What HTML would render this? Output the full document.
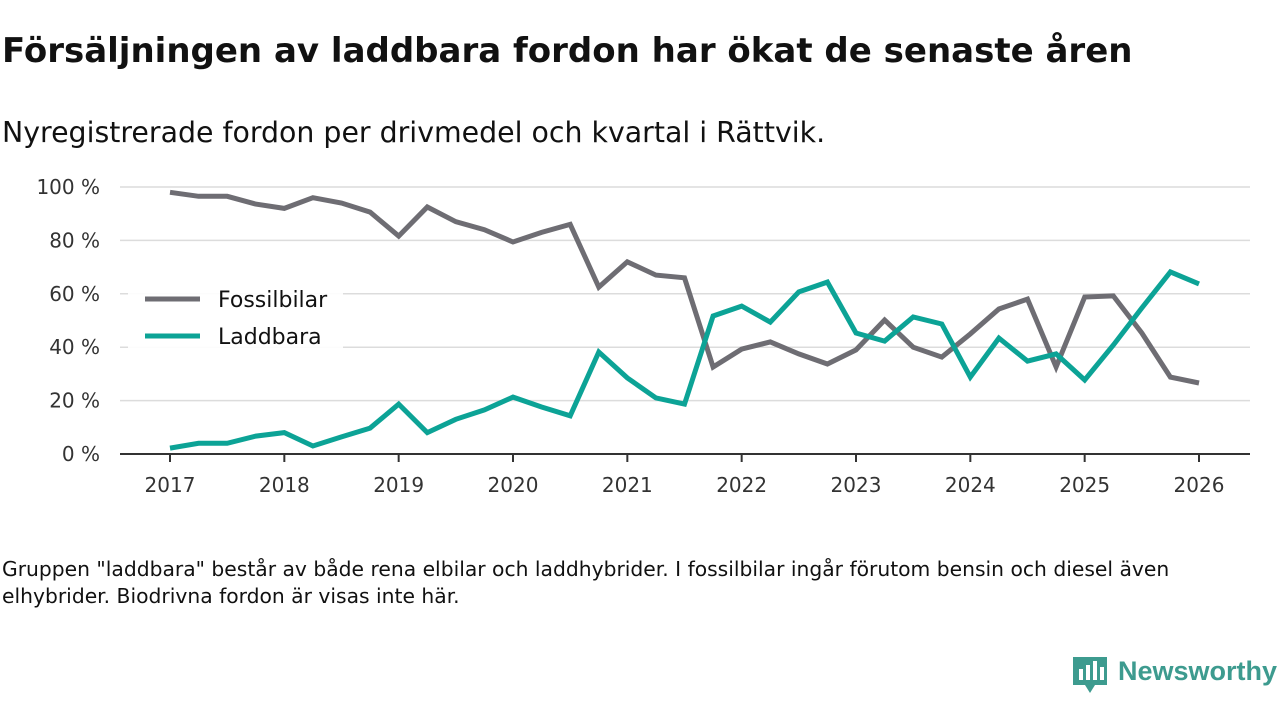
<!DOCTYPE html>
<html><head><meta charset="utf-8">
<style>
body{margin:0;width:1280px;height:720px;background:#fff;overflow:hidden;font-family:"DejaVu Sans","Liberation Sans",sans-serif;color:#111}
#title{position:absolute;left:2px;top:31px;font-size:34px;font-weight:bold;white-space:nowrap}
#sub{position:absolute;left:2px;top:116px;font-size:28.4px;white-space:nowrap}
#note{position:absolute;left:2px;top:556px;font-size:20.3px;line-height:27px;width:1215px}
#logo{position:absolute;left:1118px;top:656px;font-size:27px;color:#3d9b8f;font-weight:bold;white-space:nowrap;font-family:"Liberation Sans",sans-serif}
svg{position:absolute;left:0;top:0}
</style></head><body>
<div id="title">Försäljningen av laddbara fordon har ökat de senaste åren</div>
<div id="sub">Nyregistrerade fordon per drivmedel och kvartal i Rättvik.</div>
<svg id="chart" width="1280" height="720"></svg>
<div id="note">Gruppen "laddbara" består av både rena elbilar och laddhybrider. I fossilbilar ingår förutom bensin och diesel även elhybrider. Biodrivna fordon är visas inte här.</div>
<svg width="36" height="40" style="left:1073px;top:655px">
<path d="M0 2h34v28h-12l-5 8-5-8H0z" fill="#3d9b8f"/>
<rect x="6" y="14" width="4" height="11" fill="#fff"/><rect x="13" y="10" width="4" height="15" fill="#fff"/><rect x="20" y="6" width="4" height="19" fill="#fff"/><rect x="27" y="12" width="4" height="13" fill="#fff"/>
</svg>
<div id="logo">Newsworthy</div>
<script>
const years=[2017,2018,2019,2020,2021,2022,2023,2024,2025,2026];
const yTicks=[0,20,40,60,80,100];
const fossil=[98,96.5,96.5,93.6,92,96,94,90.6,81.6,92.5,87,84,79.4,83,86,62.5,72,67,66,32.6,39.3,42,37.5,33.7,39,50.2,40,36.3,45,54.3,58,32.6,58.8,59.2,45.3,28.8,26.6];
const laddbara=[2.2,4,4,6.7,8,3,6.4,9.7,18.7,8,13,16.5,21.3,17.6,14.3,38.2,28.5,21,18.7,51.7,55.4,49.4,60.7,64.4,45.3,42.3,51.3,48.7,28.8,43.4,34.8,37.5,27.7,40.8,54.7,68.2,63.7];
const NS="http://www.w3.org/2000/svg";
const svg=document.getElementById('chart');
const FF='DejaVu Sans, Liberation Sans, sans-serif';
const X=t=>170+(t-2017)*(1199-170)/9;
const Y=v=>454-v*(454-187)/100;
function el(tag,attrs,parent){const e=document.createElementNS(NS,tag);for(const k in attrs)e.setAttribute(k,attrs[k]);(parent||svg).appendChild(e);return e;}
yTicks.forEach(v=>{
  if(v>0){const g=el('line',{x1:120,x2:1250,y1:Y(v),y2:Y(v),stroke:'#dcdcdc','stroke-width':1.5});
  
  }
  const t=el('text',{x:100,y:Y(v)+7,'text-anchor':'end','font-size':20,fill:'#333','font-family':FF});
  t.textContent=v+' %';
  
  
});
const ax=el('line',{x1:120,x2:1250,y1:454,y2:454,stroke:'#333','stroke-width':2});


years.forEach(yr=>{
  const tk=el('line',{x1:X(yr),x2:X(yr),y1:454,y2:462,stroke:'#333','stroke-width':2});
  
  
  const t=el('text',{x:X(yr),y:492,'text-anchor':'middle','font-size':20,fill:'#333','font-family':FF});
  t.textContent=yr;
  
  
});
function line(data,color,name){
  const d=data.map((v,i)=>(i?'L':'M')+X(2017+i/4).toFixed(1)+' '+Y(v).toFixed(1)).join(' ');
  const p=el('path',{d:d,fill:'none',stroke:color,'stroke-width':5,'stroke-linejoin':'miter'});
  
  
}
line(fossil,'#6e6d73','fossilbilar-line');
line(laddbara,'#0ca396','laddbara-line');
const lg=el('g',{});


el('rect',{x:128,y:281,width:215,height:72,fill:'#fff',opacity:0.9},lg);
[['Fossilbilar','#6e6d73',299],['Laddbara','#0ca396',336]].forEach(([n,c,y])=>{
  const l=el('line',{x1:145,x2:200,y1:y,y2:y,stroke:c,'stroke-width':5},lg);
  
  
  const t=el('text',{x:218,y:y+8,'font-size':22,fill:'#111','font-family':FF},lg);
  t.textContent=n;
  
  
});
</script>
</body></html>
